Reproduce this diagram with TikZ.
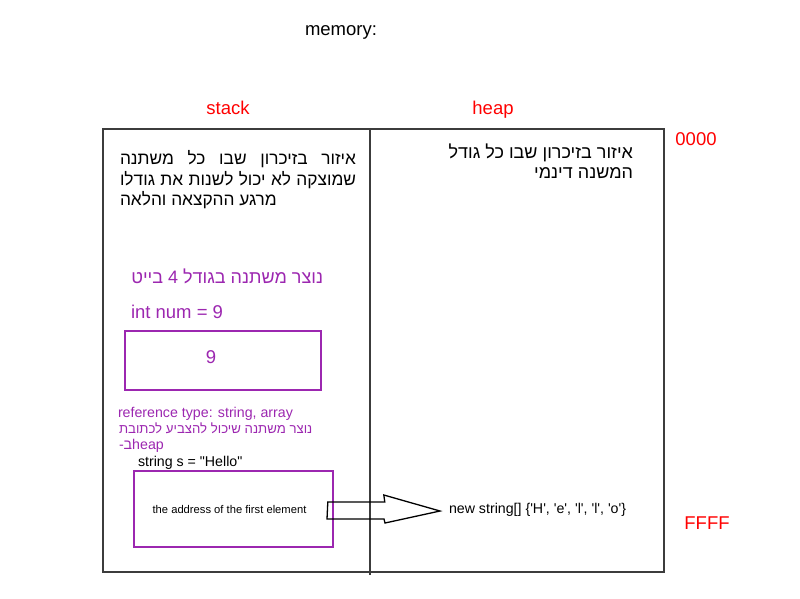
\documentclass[tikz,border=0pt]{standalone}
\usepackage{fontspec}
\usetikzlibrary{calc}
\setmainfont{Liberation Sans}[Ligatures=TeXOff]
\newfontfamily\heb[Script=Hebrew]{Liberation Sans}
\TeXXeTstate=1
\definecolor{mypurple}{RGB}{156,39,176}
\definecolor{framegray}{RGB}{60,60,60}
\begin{document}
\begin{tikzpicture}[x=1pt,y=-1pt,
  txt/.style={inner sep=0pt,outer sep=0pt},
  big/.style={font=\fontsize{18.5}{22}\selectfont},
  mid/.style={font=\fontsize{14.2}{17}\selectfont},
  hebbig/.style={txt,font=\heb\fontsize{18}{21}\selectfont},
  hebleft/.style={txt,font=\heb\fontsize{17.3}{21}\selectfont},
  hebmid/.style={txt,font=\heb\fontsize{13.2}{16}\selectfont},
  frame/.style={draw=framegray,line width=1.2pt},
  pbox/.style={draw=mypurple,line width=1.6pt}]
\useasboundingbox (0,0) rectangle (800,598);
% titles
\node[txt,big,anchor=base] (mem) at (341,35) {memory:};
\node[txt,big,text=red,anchor=base] (stk) at (228,114) {stack};
\node[txt,big,text=red,anchor=base] (hp) at (493,114) {heap};
\node[txt,big,text=red,anchor=base] (z0) at (696,145) {0000};
\node[txt,big,text=red,anchor=base] (zf) at (707,529) {FFFF};
% memory frame
\draw[frame] (103,129) rectangle (664,572);
\coordinate (divtop) at (370,129);
\coordinate (divbot) at (370,575);
\draw[frame] (divtop) -- (divbot);
% stack description
\node[hebleft,anchor=base west] (s1) at (120,164) {\makebox[236pt][s]{\beginR איזור בזיכרון שבו כל משתנה\endR}};
\node[hebleft,anchor=base west] (s2) at (120,185) {\makebox[236pt][s]{\beginR שמוצקה לא יכול לשנות את גודלו\endR}};
\node[hebleft,anchor=base west] (s3) at (120,205) {\beginR מרגע ההקצאה והלאה\endR};
% heap description
\node[hebbig,anchor=base east] (h1) at (633,158) {\beginR איזור בזיכרון שבו כל גודל\endR};
\node[hebbig,anchor=base east] (h2) at (633,178) {\beginR המשנה דינמי\endR};
% int
\node[hebbig,anchor=base east,text=mypurple] (i1) at (323,283) {\beginR נוצר משתנה בגודל 4 בייט\endR};
\node[txt,big,anchor=base west,text=mypurple] (i2) at (131,318) {int num = 9};
\draw[pbox] (125,331) rectangle (321,390);
\node[txt,big,text=mypurple] (nine) at (211,357) {9};
% reference
\node[txt,mid,anchor=base west,text=mypurple] (r1) at (118,417) {reference type: string, array};
\node[hebmid,anchor=base west,text=mypurple] (r2) at (119,433) {\beginR נוצר משתנה שיכול להצביע לכתובת\endR};
\node[txt,font=\fontsize{14.2}{16}\selectfont,anchor=base west,text=mypurple] (r3) at (119,449) {\mbox{-}\mbox{\heb ב}\mbox{heap}};
\node[txt,mid,anchor=base west] (str) at (138,466) {string s = "Hello"};
\node[pbox,minimum width=199pt,minimum height=76pt,inner sep=0pt,font=\fontsize{11.2}{13}\selectfont] (addr) at (233.5,509) {\hspace*{-8pt}the address of the first element};
\node[txt,font=\fontsize{14.2}{16}\selectfont,anchor=west] (arr) at (449,510) {new string[] \{'H', 'e', 'l', 'l', 'o'\}};
% block arrow
\draw[black,line width=1.3pt,line join=miter]
  (addr.east) ++(-6,-7) -- ++(57,0) -- ++(-1,-7) -- ($(arr.west)+(-9,1)$) -- (385,523) -- ++(-1,-4) -- ++(-57,0) -- cycle;
\end{tikzpicture}
\end{document}
